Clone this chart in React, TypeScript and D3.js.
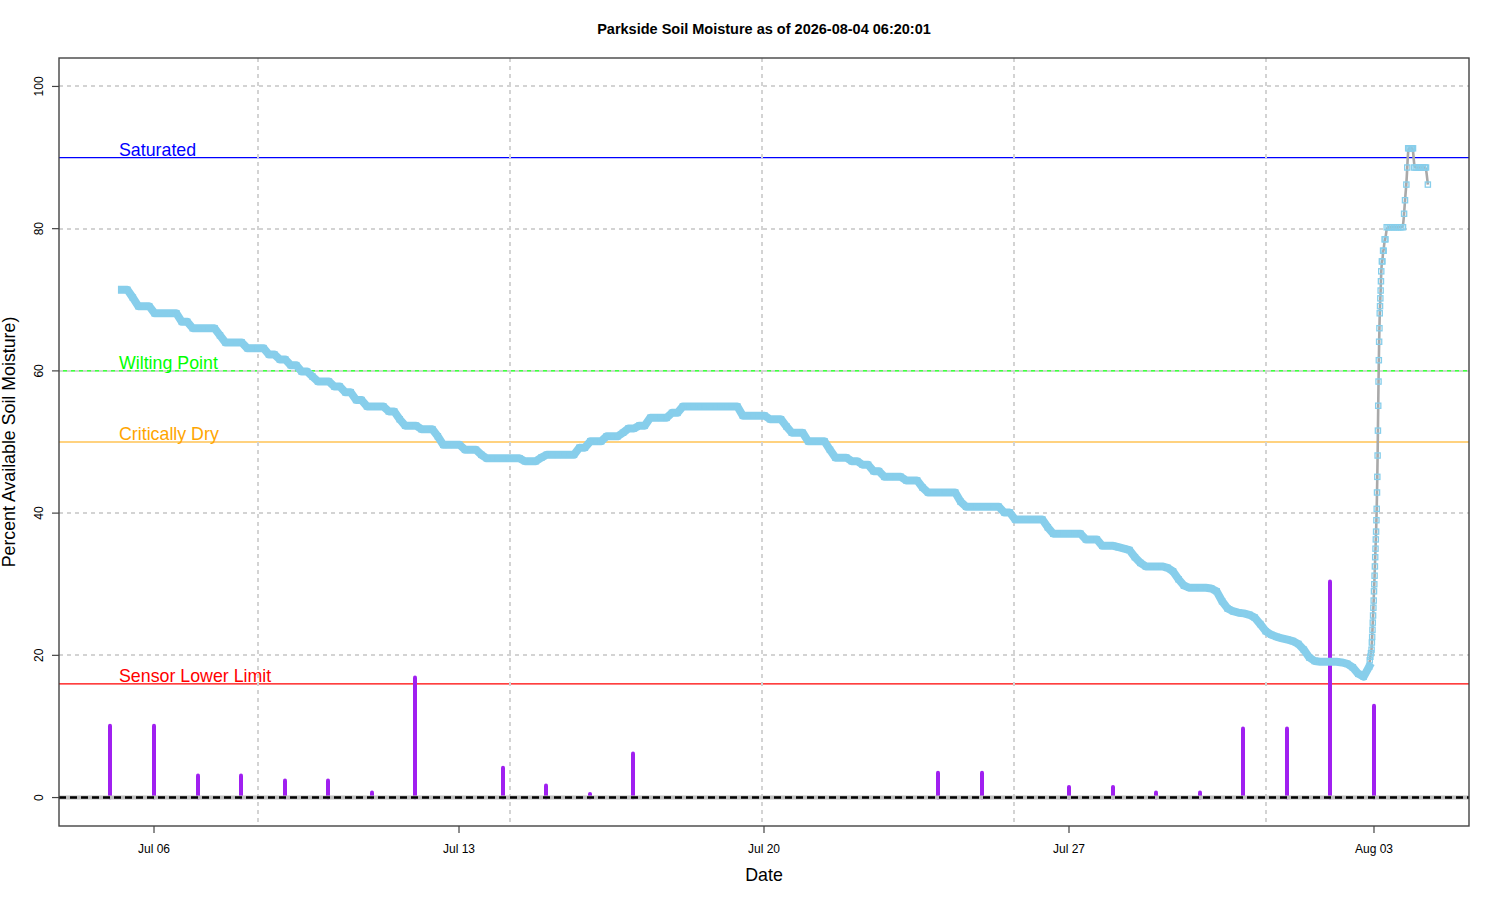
import React, { useEffect, useRef } from 'react';
import * as d3 from 'd3';

const TITLE = "Parkside Soil Moisture as of 2026-08-04 06:20:01";

// soil readings, one every 3 hours from the first sample
const soilStart = "2026-07-05T06:20:00Z";
const soilStepHours = 3;
const soilValues = [
  71.4, 71.4, 70.3, 69.1, 69.1, 69.1, 68.1, 68.1, 68.1, 68.1,
  68.1, 66.9, 66.9, 66.0, 66.0, 66.0, 66.0, 66.0, 65.0, 64.0,
  64.0, 64.0, 64.0, 63.2, 63.2, 63.2, 63.2, 62.3, 62.3, 61.6,
  61.6, 60.8, 60.8, 59.9, 59.9, 59.2, 58.5, 58.5, 58.5, 57.8,
  57.8, 57.0, 57.0, 55.9, 55.9, 55.0, 55.0, 55.0, 55.0, 54.3,
  54.3, 53.2, 52.3, 52.3, 52.3, 51.8, 51.8, 51.8, 50.8, 49.6,
  49.6, 49.6, 49.6, 48.9, 48.9, 48.9, 48.2, 47.7, 47.7, 47.7,
  47.7, 47.7, 47.7, 47.7, 47.3, 47.3, 47.3, 47.8, 48.2, 48.2,
  48.2, 48.2, 48.2, 48.2, 49.2, 49.2, 50.1, 50.1, 50.1, 50.8,
  50.8, 50.8, 51.3, 51.9, 51.9, 52.3, 52.3, 53.4, 53.4, 53.4,
  53.4, 54.1, 54.1, 55.0, 55.0, 55.0, 55.0, 55.0, 55.0, 55.0,
  55.0, 55.0, 55.0, 55.0, 53.7, 53.7, 53.7, 53.7, 53.7, 53.2,
  53.2, 53.2, 52.2, 51.3, 51.3, 51.3, 50.1, 50.1, 50.1, 50.1,
  48.9, 47.8, 47.8, 47.8, 47.3, 47.3, 46.8, 46.8, 45.9, 45.9,
  45.1, 45.1, 45.1, 45.1, 44.6, 44.6, 44.6, 43.6, 42.9, 42.9,
  42.9, 42.9, 42.9, 42.9, 41.6, 40.9, 40.9, 40.9, 40.9, 40.9,
  40.9, 40.9, 40.1, 40.1, 39.1, 39.1, 39.1, 39.1, 39.1, 39.1,
  38.0, 37.1, 37.1, 37.1, 37.1, 37.1, 37.1, 36.3, 36.3, 36.3,
  35.4, 35.4, 35.4, 35.2, 35.0, 34.8, 33.8, 33.0, 32.5, 32.5,
  32.5, 32.5, 32.3, 31.8, 30.7, 29.8, 29.5, 29.5, 29.5, 29.5,
  29.4, 29.0, 27.6, 26.6, 26.2, 26.0, 25.9, 25.7, 25.3, 24.4,
  23.4, 22.9, 22.6, 22.4, 22.2, 22.0, 21.6, 20.8, 19.7, 19.2,
  19.1, 19.1, 19.1, 19.1, 19.0, 18.8, 18.3, 17.4, 17.0, 18.4,
];

// the Aug 2-3 storm moves fast, so those readings keep their own times
const stormTimes = [
  "2026-08-02T21:40", "2026-08-02T22:00", "2026-08-02T22:20", "2026-08-02T22:40",
  "2026-08-02T22:50", "2026-08-02T23:00", "2026-08-02T23:10", "2026-08-02T23:20",
  "2026-08-02T23:30", "2026-08-02T23:40", "2026-08-02T23:50", "2026-08-03T00:00",
  "2026-08-03T00:10", "2026-08-03T00:20", "2026-08-03T00:30", "2026-08-03T00:40",
  "2026-08-03T00:50", "2026-08-03T01:00", "2026-08-03T01:10", "2026-08-03T01:20",
  "2026-08-03T01:30", "2026-08-03T01:40", "2026-08-03T01:50", "2026-08-03T02:00",
  "2026-08-03T02:10", "2026-08-03T02:20", "2026-08-03T02:30", "2026-08-03T02:40",
  "2026-08-03T02:50", "2026-08-03T03:00", "2026-08-03T03:10", "2026-08-03T03:20",
  "2026-08-03T03:30", "2026-08-03T03:40", "2026-08-03T03:50", "2026-08-03T04:00",
  "2026-08-03T04:20", "2026-08-03T04:40", "2026-08-03T05:00", "2026-08-03T05:20",
  "2026-08-03T05:50", "2026-08-03T06:20", "2026-08-03T07:00", "2026-08-03T08:00",
  "2026-08-03T09:00", "2026-08-03T10:00", "2026-08-03T11:00", "2026-08-03T12:00",
  "2026-08-03T13:00", "2026-08-03T14:00", "2026-08-03T15:00", "2026-08-03T16:00",
  "2026-08-03T16:35", "2026-08-03T17:05", "2026-08-03T17:50", "2026-08-03T18:20",
  "2026-08-03T18:50", "2026-08-03T19:30", "2026-08-03T20:10", "2026-08-03T20:50",
  "2026-08-03T21:30", "2026-08-03T22:10", "2026-08-03T23:00", "2026-08-04T00:00",
  "2026-08-04T01:00", "2026-08-04T02:00", "2026-08-04T03:00", "2026-08-04T04:00",
  "2026-08-04T04:40", "2026-08-04T05:40",
];
const stormValues = [
  19.3, 19.8, 20.3, 20.8,
  21.8, 22.6, 23.6, 24.6,
  25.6, 26.7, 27.7, 29.0,
  30.0, 31.2, 32.5, 33.8,
  35.0, 36.3, 37.4, 39.0,
  40.6, 42.9, 45.1, 48.1,
  51.6, 55.1, 58.5, 61.5,
  64.1, 66.0, 68.1, 69.1,
  70.2, 71.3, 72.6, 74.0,
  75.4, 75.4, 76.9, 76.9,
  78.5, 78.5, 80.2, 80.2,
  80.2, 80.2, 80.2, 80.2,
  80.2, 80.2, 80.2, 80.2,
  82.1, 84.0, 86.2, 88.6,
  91.3, 91.3, 91.3, 91.3,
  91.3, 88.6, 88.6, 88.6,
  88.6, 88.6, 88.6, 88.6,
  88.6, 86.2,
];

// daily rain, drawn on the same axis
const rainStart = "2026-07-05T00:00:00Z";
const rainValues = [
  10.1, 10.1, 3.1, 3.1, 2.4, 2.4, 0.7, 16.9, 0, 4.2,
  1.7, 0.5, 6.2, 0, 0, 0, 0, 0, 0, 3.5,
  3.5, 0, 1.5, 1.5, 0.7, 0.7, 9.7, 9.7, 30.4, 12.9,
];

const thresholdLabels = ["Saturated", "Wilting Point", "Critically Dry", "Sensor Lower Limit"];
const thresholdValues = [90, 60, 50, 16];
const thresholdColors = ["#0000ff", "#00ff00", "#ffa500", "#ff0000"];

const yTicks = [0, 20, 40, 60, 80, 100];
const xTicks = ["2026-07-06", "2026-07-13", "2026-07-20", "2026-07-27", "2026-08-03"];
const xGrid = ["2026-07-08T09:17", "2026-07-14T04:06", "2026-07-19T22:55", "2026-07-25T17:43", "2026-07-31T12:30"];

const FONT = "'Liberation Sans', Arial, Helvetica, sans-serif";
const utc = (s: string) => new Date(s.length <= 10 ? s + "T00:00:00Z" : s.endsWith("Z") ? s : s + ":00Z");

const App: React.FC = () => {
  const svgRef = useRef<SVGSVGElement>(null);

  useEffect(() => {
    if (!svgRef.current) return;
    d3.select(svgRef.current).selectAll("*").remove();

    const width = 1500;
    const height = 900;
    const left = 59, right = 1469, top = 58, bottom = 826;

    const svg = d3.select(svgRef.current)
      .attr("width", width)
      .attr("height", height)
      .style("font-family", FONT);

    svg.append("rect").attr("width", width).attr("height", height).attr("fill", "white");

    const x = d3.scaleUtc()
      .domain([utc("2026-07-03T19:40"), utc("2026-08-05T04:20")])
      .range([left, right]);
    const y = d3.scaleLinear().domain([-4, 104]).range([bottom, top]);

    const t0 = utc(soilStart).getTime();
    const steady = soilValues.map((v, i) => ({ t: new Date(t0 + i * soilStepHours * 3600e3), v }));
    const storm = stormValues.map((v, i) => ({ t: utc(stormTimes[i]), v }));
    const soil = steady.concat(storm);

    const r0 = utc(rainStart).getTime();
    const rain = rainValues.map((v, i) => ({ t: new Date(r0 + i * 86400e3), v }));

    // threshold lines and their labels
    thresholdValues.forEach((v, i) => {
      svg.append("line")
        .attr("x1", left).attr("x2", right)
        .attr("y1", y(v)).attr("y2", y(v))
        .attr("stroke", thresholdColors[i]).attr("stroke-width", 1.2);
      svg.append("text")
        .attr("x", 119).attr("y", y(v) - 2)
        .attr("fill", thresholdColors[i])
        .style("font-size", "17.8px")
        .text(thresholdLabels[i]);
    });

    // grid
    const grid = svg.append("g")
      .attr("stroke", "#d3d3d3").attr("stroke-width", 2).attr("stroke-dasharray", "4 4");
    yTicks.forEach(v => {
      grid.append("line").attr("x1", left).attr("x2", right)
        .attr("y1", Math.round(y(v))).attr("y2", Math.round(y(v)));
    });
    xGrid.forEach(s => {
      const gx = Math.round(x(utc(s)));
      grid.append("line").attr("x1", gx).attr("x2", gx).attr("y1", top).attr("y2", bottom);
    });

    // rain bars
    svg.append("g").selectAll("line")
      .data(rain.filter(d => d.v > 0))
      .enter()
      .append("line")
      .attr("x1", d => Math.round(x(d.t))).attr("x2", d => Math.round(x(d.t)))
      .attr("y1", y(0)).attr("y2", d => y(d.v))
      .attr("stroke", "#a020f0")
      .attr("stroke-width", 4)
      .attr("stroke-linecap", "round");

    // zero line
    svg.append("line")
      .attr("x1", left).attr("x2", right).attr("y1", y(0)).attr("y2", y(0))
      .attr("stroke", "#bebebe").attr("stroke-width", 4);
    svg.append("line")
      .attr("x1", left).attr("x2", right).attr("y1", y(0)).attr("y2", y(0))
      .attr("stroke", "black").attr("stroke-width", 2.5).attr("stroke-dasharray", "7 4");

    // smoothed trend under the readings
    const trend = d3.line<{ t: Date; v: number }>()
      .x(d => x(d.t)).y(d => y(d.v))
      .curve(d3.curveBasis);
    svg.append("path")
      .attr("d", trend(soil) || "")
      .attr("fill", "none")
      .attr("stroke", "#a9a9a9")
      .attr("stroke-width", 2.6);

    // dense readings overlap into a solid band
    const band = d3.line<{ t: Date; v: number }>()
      .x(d => x(d.t)).y(d => y(d.v));
    svg.append("path")
      .attr("d", band(steady) || "")
      .attr("fill", "none")
      .attr("stroke", "#87ceeb")
      .attr("stroke-width", 8)
      .attr("stroke-linecap", "square")
      .attr("stroke-linejoin", "round");

    const sq = 5.2;
    svg.append("g").selectAll("rect")
      .data(soil)
      .enter()
      .append("rect")
      .attr("x", d => x(d.t) - sq / 2)
      .attr("y", d => y(d.v) - sq / 2)
      .attr("width", sq).attr("height", sq)
      .attr("fill", "none")
      .attr("stroke", "#87ceeb")
      .attr("stroke-width", 1.3);

    // frame
    svg.append("rect")
      .attr("x", left).attr("y", top)
      .attr("width", right - left).attr("height", bottom - top)
      .attr("fill", "none").attr("stroke", "#444").attr("stroke-width", 1.4);

    // x axis
    const fmt = d3.utcFormat("%b %d");
    xTicks.forEach(s => {
      const tx = x(utc(s));
      svg.append("line").attr("x1", tx).attr("x2", tx).attr("y1", bottom).attr("y2", bottom + 7)
        .attr("stroke", "#444").attr("stroke-width", 1.2);
      svg.append("text").attr("x", tx).attr("y", 853)
        .attr("text-anchor", "middle").style("font-size", "12px").text(fmt(utc(s)));
    });

    // y axis
    yTicks.forEach(v => {
      svg.append("line").attr("x1", left - 7).attr("x2", left).attr("y1", y(v)).attr("y2", y(v))
        .attr("stroke", "#444").attr("stroke-width", 1.2);
      svg.append("text")
        .attr("transform", `translate(43,${y(v)}) rotate(-90)`)
        .attr("text-anchor", "middle").style("font-size", "12px").text(v);
    });

    // titles
    svg.append("text").attr("x", (left + right) / 2).attr("y", 34)
      .attr("text-anchor", "middle").style("font-size", "14.5px").style("font-weight", "bold")
      .text(TITLE);
    svg.append("text").attr("x", (left + right) / 2).attr("y", 881)
      .attr("text-anchor", "middle").style("font-size", "17.8px").text("Date");
    svg.append("text")
      .attr("transform", `translate(15,${(top + bottom) / 2}) rotate(-90)`)
      .attr("text-anchor", "middle").style("font-size", "17.8px")
      .text("Percent Available Soil Moisture)");
  }, []);

  return (
    <svg ref={svgRef} style={{ position: "absolute", left: 0, top: 0 }} aria-label="Parkside soil moisture chart" />
  );
};

export default App;
